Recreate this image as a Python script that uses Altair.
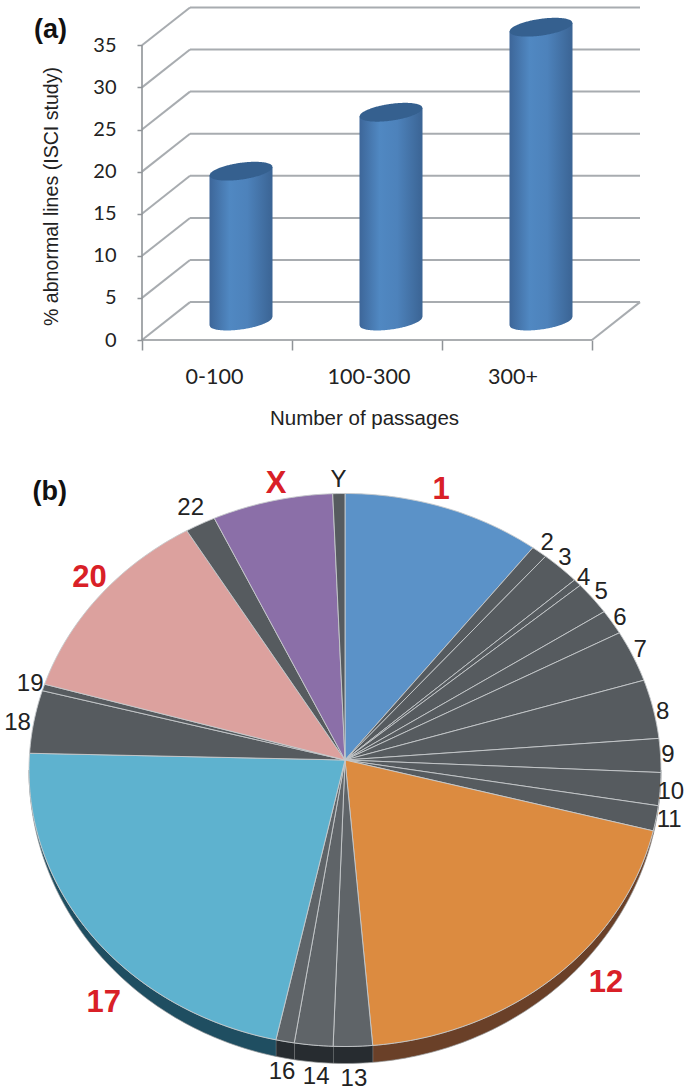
import math
import altair as alt
import pandas as pd

# ---- panel (a): abnormal lines by passage number ----
passage_groups = ["0-100", "100-300", "300+"]
abnormal_pct = [17.8, 24.8, 34.9]
pct_ticks = [0, 5, 10, 15, 20, 25, 30, 35]

# ---- panel (b): share of each chromosome (% of the pie) ----
chromosomes = ["1", "2", "3", "4", "5", "6", "7", "8", "9", "10", "11", "12",
               "13", "14", "16", "17", "18", "19", "20", "22", "X", "Y"]
chrom_share = [10.14, 0.81, 2.0, 0.42, 1.94, 1.44, 3.0, 3.44, 1.97, 1.92, 1.47, 20.08,
               2.0, 1.97, 0.94, 22.47, 3.67, 0.39, 11.64, 1.56, 6.17, 0.62]
highlighted = {"1": "#5b92c8", "12": "#dc8b40", "17": "#5eb2cf", "20": "#dca19e", "X": "#8b6fa8"}
edge_tone = {"12": "#6a4028", "13": "#272c30", "14": "#272c30", "16": "#272c30", "17": "#1f4e61"}
# label placement: radial distance (rim = 1) and angular shift from the slice middle
label_radius = {"1": 1.057, "2": 1.04, "3": 1.036, "4": 1.027, "5": 1.035, "6": 1.03, "7": 1.03,
                "8": 1.027, "9": 1.023, "10": 1.034, "11": 1.042, "12": 1.13, "13": 1.118,
                "14": 1.114, "16": 1.11, "17": 1.136, "18": 1.05, "19": 1.044, "20": 1.065,
                "22": 1.067, "X": 1.056, "Y": 1.049}
label_shift = {"1": -1.5, "3": -0.8, "7": -0.6, "8": 1.0, "10": 0.5, "12": -5.8, "14": -1.0,
               "16": -0.6, "17": -10.8, "18": -0.8, "20": 1.6, "X": 1.4}

GRID = "#a8acb0"
INK = "#222222"
SANS = "Liberation Sans"
TICK_FONT = "Lato"

# 3D box geometry of panel (a), in axis units
DEPTH_X, DEPTH_Y = 0.32, 4.5
xa = alt.Scale(domain=[0, 3.32], range=[142, 640])
ya = alt.Scale(domain=[0, 39.55], range=[340, 7])
# pie panel uses a unit ellipse
xb = alt.Scale(domain=[-1, 1], range=[29, 661])
yb = alt.Scale(domain=[-1, 1], range=[1046.5, 493.5])


def Xa(f, **kw):
    return alt.X(f, type="quantitative", scale=xa, axis=kw.pop("axis", None), **kw)


def Ya(f, **kw):
    return alt.Y(f, type="quantitative", scale=ya, axis=kw.pop("axis", None), **kw)


def Xb(f):
    return alt.X(f, type="quantitative", scale=xb, axis=None)


def Yb(f):
    return alt.Y(f, type="quantitative", scale=yb, axis=None)


# ---------- walls and floor of the 3D box ----------
wall_rows = []
for v in pct_ticks:
    wall_rows.append(dict(x=0, x2=DEPTH_X, y=v, y2=v + DEPTH_Y))
    wall_rows.append(dict(x=DEPTH_X, x2=3 + DEPTH_X, y=v + DEPTH_Y, y2=v + DEPTH_Y))
wall_rows.append(dict(x=3, x2=3 + DEPTH_X, y=0, y2=DEPTH_Y))
walls = alt.Chart(pd.DataFrame(wall_rows)).mark_rule(color=GRID, strokeWidth=2).encode(
    x=Xa("x"), x2="x2", y=Ya("y"), y2="y2")

frame = alt.Chart(pd.DataFrame([dict(x=0, x2=3, y=0, y2=0), dict(x=0, x2=0, y=0, y2=35)])).mark_rule(
    color="#8f9397", strokeWidth=1.6).encode(x=Xa("x"), x2="x2", y=Ya("y"), y2="y2")

# ---------- axes ----------
y_axis = alt.Chart(pd.DataFrame({"v": pct_ticks})).mark_point(opacity=0).encode(
    x=alt.value(0),
    y=Ya("v", axis=alt.Axis(
        orient="left", offset=-142, values=pct_ticks, domain=False, grid=False, tickColor="#8f9397",
        tickSize=5, tickWidth=1.5, labelFont=TICK_FONT, labelFontSize=20, labelColor=INK, labelPadding=21,
        title="% abnormal lines (ISCI study)", titleFont=SANS, titleFontSize=19.6, titleFontWeight="normal",
        titleColor=INK, titleX=-81, titleY=196)),
)
x_ticks = alt.Chart(pd.DataFrame({"v": [0, 1, 2, 3]})).mark_point(opacity=0).encode(
    y=alt.value(0),
    x=Xa("v", axis=alt.Axis(
        orient="bottom", offset=-752, values=[0, 1, 2, 3], labels=False, domain=False, grid=False, title=None,
        tickColor="#8f9397", tickSize=10, tickWidth=1.5)),
)
label_expr = "datum.value < 1 ? '0-100' : datum.value < 2 ? '100-300' : '300+'"
x_labels = alt.Chart(pd.DataFrame({"v": [0.48, 1.51, 2.47]})).mark_point(opacity=0).encode(
    y=alt.value(0),
    x=Xa("v", axis=alt.Axis(
        orient="bottom", offset=-752, values=[0.48, 1.51, 2.47], ticks=False, domain=False, grid=False,
        labelExpr=label_expr, labelFont=TICK_FONT, labelFontSize=21.5, labelColor=INK, labelPadding=26,
        title="Number of passages", titleFont=SANS, titleFontSize=20.5, titleFontWeight="normal",
        titleColor=INK, titleX=364, titleY=68)),
)

# ---------- cylinders ----------
CYL_RX, CYL_RY, CYL_TILT = 0.21, 1.0, 0.5
body_rows, cap_rows = [], []
for i, (group, pct) in enumerate(zip(passage_groups, abnormal_pct)):
    cx = i + 0.5 + DEPTH_X / 2
    base = DEPTH_Y / 2
    for k in range(-40, 41):
        s = k / 40
        half = CYL_RY * math.sqrt(max(0.0, 1 - s * s))
        rise = CYL_TILT * s
        body_rows.append(dict(group=group, x=cx + CYL_RX * s, lo=base + rise - half, hi=base + pct + rise))
        cap_rows.append(dict(group=group, x=cx + CYL_RX * s, lo=base + pct + rise - half,
                             hi=base + pct + rise + half))
barrel = alt.Gradient(
    gradient="linear", x1=0, x2=1, y1=0, y2=0,
    stops=[alt.GradientStop(color="#3d6699", offset=0),
           alt.GradientStop(color="#5088c2", offset=0.32),
           alt.GradientStop(color="#4d82bb", offset=0.6),
           alt.GradientStop(color="#3b6494", offset=1)])
bodies = alt.Chart(pd.DataFrame(body_rows)).mark_area(color=barrel, interpolate="linear").encode(
    x=Xa("x"), y=Ya("lo"), y2=alt.Y2("hi"), detail="group:N")
caps = alt.Chart(pd.DataFrame(cap_rows)).mark_area(color="#35608f", interpolate="linear").encode(
    x=Xa("x"), y=Ya("lo"), y2=alt.Y2("hi"), detail="group:N")

# ---------- pie ----------
APEX_V = 10 / 276.5
SIDE_RY = 293.5 / 276.5
total = sum(chrom_share)
spans, start = {}, 0.0
for name, share in zip(chromosomes, chrom_share):
    spans[name] = (start, start + share / total * 360)
    start = spans[name][1]


def arc_angles(a, b):
    steps = max(2, int(b - a) + 1)
    return [a + (b - a) * j / steps for j in range(steps + 1)]


top_rows, side_rows = [], []
for name, (a, b) in spans.items():
    seq = 0
    fill = highlighted.get(name, "#565b5f" if name not in edge_tone else "#5f6468")
    top_rows.append(dict(name=name, seq=seq, u=0.0, v=APEX_V, fill=fill))
    for t in arc_angles(a, b):
        seq += 1
        r = math.radians(t)
        top_rows.append(dict(name=name, seq=seq, u=math.sin(r), v=math.cos(r), fill=fill))
    seq += 1
    top_rows.append(dict(name=name, seq=seq, u=0.0, v=APEX_V, fill=fill))

    la, lb = max(a, 90.0), min(b, 270.0)
    if lb > la:
        tone = edge_tone.get(name, "#3a3f42")
        angles = arc_angles(la, lb)
        seq = 0
        for t in angles:
            r = math.radians(t)
            side_rows.append(dict(name=name, seq=seq, u=math.sin(r), v=math.cos(r), fill=tone))
            seq += 1
        for t in reversed(angles):
            r = math.radians(t)
            side_rows.append(dict(name=name, seq=seq, u=math.sin(r), v=math.cos(r) * SIDE_RY, fill=tone))
            seq += 1


def polygons(rows, stroke, width):
    return alt.Chart(pd.DataFrame(rows)).mark_line(stroke=stroke, strokeWidth=width).encode(
        x=Xb("u"), y=Yb("v"), order="seq:Q", detail="name:N",
        fill=alt.Fill("fill:N", scale=None))


side = polygons(side_rows, "#9a9c9e", 0.7)
top = polygons(top_rows, "#c6cacc", 0.9)

# ---------- pie labels ----------
plain, bold = [], []
for name, (a, b) in spans.items():
    r = math.radians((a + b) / 2 + label_shift.get(name, 0))
    k = label_radius[name]
    row = dict(name=name, u=k * math.sin(r), v=k * math.cos(r))
    (bold if name in highlighted else plain).append(row)
plain_text = alt.Chart(pd.DataFrame(plain)).mark_text(
    font=SANS, fontSize=24, color=INK, align="center", baseline="middle").encode(
    x=Xb("u"), y=Yb("v"), text="name:N")
bold_text = alt.Chart(pd.DataFrame(bold)).mark_text(
    font=SANS, fontSize=31, fontWeight="bold", color="#d92027", align="center", baseline="middle").encode(
    x=Xb("u"), y=Yb("v"), text="name:N")

tag_a = alt.Chart(pd.DataFrame({"x": [-0.61], "y": [36.8], "t": ["(a)"]})).mark_text(
    font=SANS, fontSize=27, fontWeight="bold", color="#111111").encode(
    x=Xa("x"), y=Ya("y"), text="t:N")
tag_b = alt.Chart(pd.DataFrame({"x": [-0.934], "y": [1.005], "t": ["(b)"]})).mark_text(
    font=SANS, fontSize=27, fontWeight="bold", color="#111111").encode(
    x=Xb("x"), y=Yb("y"), text="t:N")

chart = alt.layer(
    walls, frame, y_axis, x_ticks, x_labels, bodies, caps, tag_a,
    side, top, plain_text, bold_text, tag_b,
).resolve_scale(x="independent", y="independent").properties(
    width=686, height=1092, padding=0,
    autosize=alt.AutoSizeParams(type="none"),
    background="white",
).configure_view(stroke=None)

chart.save("out.html", embed_options={"renderer": "svg", "actions": False})
